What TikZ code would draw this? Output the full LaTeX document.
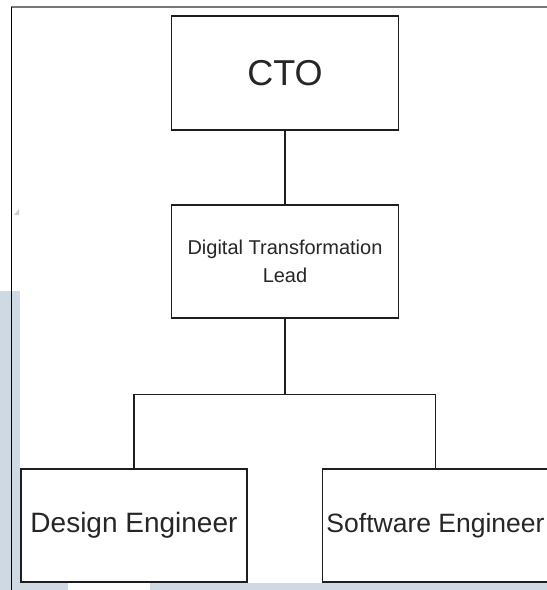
\documentclass[tikz,border=0pt]{standalone}
\usepackage{fontspec}
\setmainfont{Liberation Sans}
\definecolor{bgblue}{RGB}{206,217,228}
\definecolor{framegray}{RGB}{120,120,120}
\definecolor{linecol}{RGB}{30,30,30}
\begin{document}
\begin{tikzpicture}[x=1pt,y=-1pt,
  orgbox/.style={draw=linecol, line width=1.3pt, fill=white, inner sep=0pt,
                 minimum width=227pt, minimum height=113pt, text=black!85},
  conn/.style={draw=linecol, line width=1.2pt}]
\useasboundingbox (0,0) rectangle (547,590);
% light blue background strips
\fill[bgblue] (0,291) rectangle (20,590);
\fill[bgblue] (0,583) rectangle (68,590);
\fill[bgblue] (150,583) rectangle (547,590);
% page frame
\draw[framegray, line width=1.5pt] (11,7) -- (547,7);
\draw[black, line width=1pt] (11.5,7) -- (11.5,590);
\fill[black!20] (19,209) -- (19,215) -- (14,215) -- cycle;
% boxes
\node[orgbox, minimum height=114pt, font=\fontsize{36}{43}\selectfont] (cto) at (285,73) {CTO};
\node[orgbox, align=center, font=\fontsize{20}{28}\selectfont] (dtl) at (285,261.5) {Digital Transformation\\Lead};
\node[orgbox, minimum width=226pt, font=\fontsize{28}{34}\selectfont] (de) at (134,525.5) {Design Engineer};
\node[orgbox, minimum width=226pt, font=\fontsize{26.5}{32}\selectfont] (se) at (435.5,525.5) {Software Engineer};
% connectors
\draw[conn] (cto.south) -- (dtl.north);
\draw[conn] (dtl.south) -- ++(0,76) coordinate (bus);
\draw[conn] (de.north) |- (bus) -| (se.north);
\end{tikzpicture}
\end{document}
